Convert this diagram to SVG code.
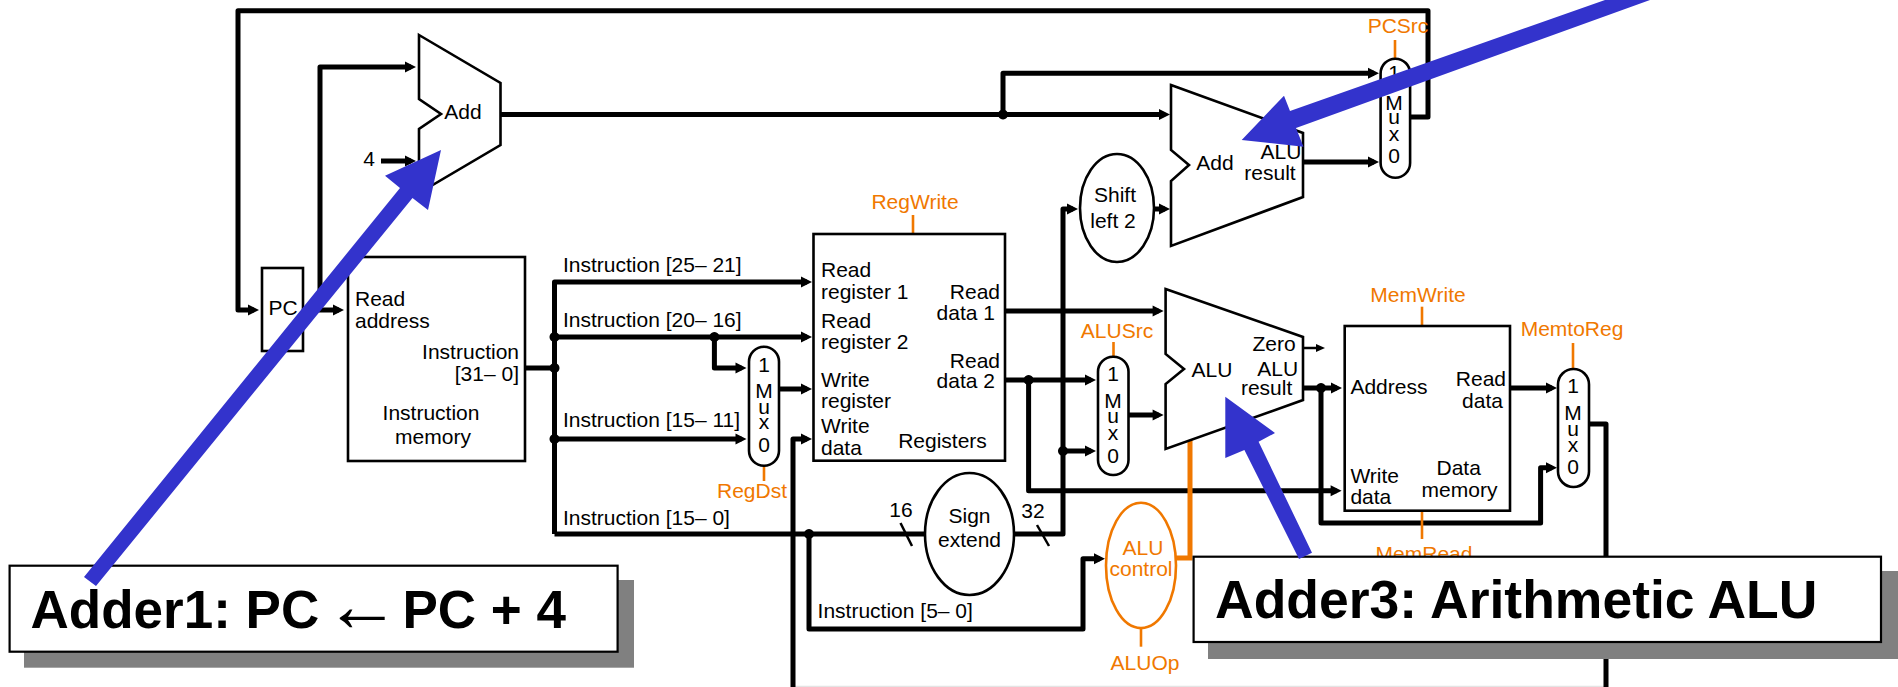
<svg xmlns="http://www.w3.org/2000/svg" width="1898" height="687" viewBox="0 0 1898 687">
<defs>
<marker id="ah" markerUnits="userSpaceOnUse" markerWidth="14" markerHeight="14" refX="7" refY="7" orient="auto"><path d="M1,1.5 L12,7 L1,12.5 Z" fill="#000"/></marker>
<marker id="ahs" markerUnits="userSpaceOnUse" markerWidth="12" markerHeight="12" refX="5" refY="6" orient="auto"><path d="M1,2 L10,6 L1,10 Z" fill="#000"/></marker>
</defs>
<style>
text{font-family:"Liberation Sans",Arial,sans-serif;font-size:21px;fill:#000}
.m{text-anchor:middle}.e{text-anchor:end}
.o{fill:#f07800}
.w{stroke:#000;stroke-width:5;fill:none;stroke-linejoin:round;stroke-linecap:butt}
.a{marker-end:url(#ah)}
.t{stroke:#000;stroke-width:2.5;fill:none}
.b{stroke:#000;stroke-width:2.6;fill:#fff;stroke-linejoin:miter}
.ol{stroke:#f07800;stroke-width:2.6;fill:none}
.d{fill:#000}
.blue{fill:#3333cc}
.big{font-size:53.5px;font-weight:bold}
.sh{fill:#808080}
.cb{fill:#fff;stroke:#000;stroke-width:2.2}
</style>
<rect width="1898" height="687" fill="#fff"/>
<g id="connectors">
<path class="w" d="M793,686.5H1606" style="stroke:#e4e4e4;stroke-width:1.5"/>
<path class="w" d="M1410,117H1428V10.7H238V310H254" marker-end="url(#ah)"/>
<path class="w a" d="M303,310H339"/>
<path class="w a" d="M320,310V67H411"/>
<path class="w a" d="M381,161H411"/>
<path class="w" d="M500.5,114.5H1003"/>
<path class="w a" d="M1003,114.5H1165"/>
<path class="w a" d="M1003,114.5V73.3H1374"/>
<path class="w a" d="M1303,162H1374"/>
<path class="w" d="M525,368H554.5"/>
<path class="w a" d="M554.5,534V282H807"/>
<path class="w a" d="M554.5,337H807"/>
<path class="w a" d="M714.4,337V368H741.5"/>
<path class="w a" d="M554.5,439H741.5"/>
<path class="w a" d="M779,389H807"/>
<path class="w" d="M554.5,534H926"/>
<path class="w a" d="M793,687V439H807"/>
<path class="w a" d="M809,534V629H1083V558.7H1100"/>
<path class="w a" d="M1005,311H1158.6"/>
<path class="w a" d="M1005,380H1091"/>
<path class="w a" d="M1028.6,380V490.7H1336.6"/>
<path class="w a" d="M1014,534H1063V209H1073"/>
<path class="w a" d="M1063,451H1091"/>
<path class="w a" d="M1128.5,415H1158.6"/>
<path class="w a" d="M1152,209H1165"/>
<path class="t" d="M1303,348H1320" marker-end="url(#ahs)"/>
<path class="w a" d="M1303,388H1337"/>
<path class="w a" d="M1321,388V523H1540.6V467.7H1552"/>
<path class="w a" d="M1510,388H1552"/>
<path class="w" d="M1588,424H1606V687"/>
<path class="t" d="M900.5,523L912,546"/>
<path class="t" d="M1037,525L1049,546"/>
<path class="d" d="M554.5,332a5,5 0 1,0 .01,0Z M554.5,363a5,5 0 1,0 .01,0Z M554.5,434a5,5 0 1,0 .01,0Z M714.4,332a5,5 0 1,0 .01,0Z M1003,109.5a5,5 0 1,0 .01,0Z M1028.6,375a5,5 0 1,0 .01,0Z M1063,446a5,5 0 1,0 .01,0Z M1321,383a5,5 0 1,0 .01,0Z M809,529a5,5 0 1,0 .01,0Z"/>
<path class="ol" d="M1395,40V58"/>
<path class="ol" d="M764,466V481"/>
<path class="ol" d="M913,215V234"/>
<path class="ol" d="M1113.5,342V356"/>
<path class="ol" d="M1422,306.7V326"/>
<path class="ol" d="M1422,511V539"/>
<path class="ol" d="M1573,343V369"/>
<path class="ol" d="M1141,628V646.7"/>
<path class="ol" d="M1190,440V558H1176" style="stroke-width:5"/>
</g>
<g id="pc"><rect class="b" x="262" y="268" width="41" height="83"/><text class="m" x="283" y="315">PC</text></g>
<g id="add1"><path class="b" d="M419,35L500.5,83V145L419,193V129L441,114L419,99Z"/><text class="m" x="463" y="119">Add</text><text class="m" x="369" y="166">4</text></g>
<g id="instruction-memory"><rect class="b" x="348" y="257" width="177" height="204"/>
<text x="355" y="306">Read</text><text x="355" y="328">address</text><text class="e" x="519" y="359">Instruction</text><text class="e" x="519" y="381">[31– 0]</text><text class="m" x="431" y="420">Instruction</text><text class="m" x="433" y="444">memory</text></g>
<g id="instruction-labels"><text x="563" y="272">Instruction [25– 21]</text><text x="563" y="327">Instruction [20– 16]</text><text x="563" y="427">Instruction [15– 11]</text><text x="563" y="525">Instruction [15– 0]</text><text x="817.6" y="618">Instruction [5– 0]</text><text class="m" x="901" y="517">16</text><text class="m" x="1033" y="518">32</text></g>
<g id="mux-regdst"><rect class="b" x="749" y="346.7" width="30" height="119" rx="15"/><text class="m" x="764" y="372">1</text><text class="m" x="764" y="398">M</text><text class="m" x="764" y="414">u</text><text class="m" x="764" y="429">x</text><text class="m" x="764" y="452">0</text><text class="m o" x="752" y="498">RegDst</text></g>
<g id="registers"><rect class="b" x="813.5" y="234" width="191.5" height="226.7"/><text class="m o" x="915" y="209">RegWrite</text>
<text x="821" y="277">Read</text><text x="821" y="299">register 1</text><text x="821" y="328">Read</text><text x="821" y="349">register 2</text><text x="821" y="387">Write</text><text x="821" y="408">register</text><text x="821" y="433">Write</text><text x="821" y="455">data</text><text class="m" x="942.5" y="448">Registers</text>
<text class="e" x="1000" y="299">Read</text><text class="e" x="995" y="320">data 1</text><text class="e" x="1000" y="368">Read</text><text class="e" x="995" y="388">data 2</text></g>
<g id="sign-extend"><ellipse class="b" cx="969.5" cy="534" rx="44.5" ry="61"/><text class="m" x="969.5" y="523">Sign</text><text class="m" x="969.5" y="547">extend</text></g>
<g id="shift-left"><ellipse class="b" cx="1117" cy="208" rx="37" ry="54"/><text class="m" x="1115" y="202">Shift</text><text class="m" x="1113" y="228">left 2</text></g>
<g id="add2"><path class="b" d="M1171,85L1303,133V197L1171,246V181L1189,165L1171,150Z"/><text class="m" x="1215" y="170">Add</text><text class="m" x="1281" y="159">ALU</text><text class="m" x="1270" y="180">result</text></g>
<g id="mux-pcsrc"><rect class="b" x="1380.6" y="58.7" width="29.5" height="119" rx="14.7"/><text class="m" x="1394" y="80">1</text><text class="m" x="1394" y="110">M</text><text class="m" x="1394" y="124">u</text><text class="m" x="1394" y="141">x</text><text class="m" x="1394" y="163">0</text><text class="m o" x="1398" y="33">PCSrc</text></g>
<g id="mux-alusrc"><rect class="b" x="1098" y="356.7" width="30.5" height="118.3" rx="15"/><text class="m" x="1113" y="381">1</text><text class="m" x="1113" y="407.7">M</text><text class="m" x="1113" y="423">u</text><text class="m" x="1113" y="440">x</text><text class="m" x="1113" y="462.7">0</text><text class="m o" x="1117" y="337.7">ALUSrc</text></g>
<g id="alu"><path class="b" d="M1165.6,289L1303,337V400L1165.6,449V384L1184,369L1165.6,354Z"/><text class="m" x="1212" y="376.7">ALU</text><text class="m" x="1274" y="350.7">Zero</text><text class="m" x="1277.7" y="375.7">ALU</text><text class="m" x="1266.6" y="395">result</text></g>
<g id="alu-control"><ellipse cx="1141" cy="565.4" rx="35" ry="62.7" fill="#fff" stroke="#f07800" stroke-width="2.6"/><text class="m o" x="1143" y="555">ALU</text><text class="m o" x="1141" y="576">control</text><text class="m o" x="1145" y="670">ALUOp</text></g>
<g id="data-memory"><rect class="b" x="1344.7" y="326" width="165.3" height="184.7"/><text class="m o" x="1418" y="301.7">MemWrite</text><text class="m o" x="1424" y="561">MemRead</text>
<text x="1350.4" y="394">Address</text><text class="e" x="1506" y="386">Read</text><text class="m" x="1482.5" y="407.7">data</text><text x="1350.4" y="482.7">Write</text><text x="1350.4" y="504">data</text><text class="m" x="1458.7" y="475">Data</text><text class="m" x="1459.5" y="497">memory</text></g>
<g id="mux-memtoreg"><rect class="b" x="1558" y="369" width="31" height="118" rx="15.5"/><text class="m" x="1573" y="393">1</text><text class="m" x="1573" y="420">M</text><text class="m" x="1573" y="435.7">u</text><text class="m" x="1573" y="452">x</text><text class="m" x="1573" y="474">0</text><text class="m o" x="1572" y="336">MemtoReg</text></g>
<g id="callout-adder1"><rect class="sh" x="24" y="580" width="610" height="87.7"/><rect class="cb" x="9.6" y="565.7" width="608" height="86"/><text class="big" x="30.6" y="628" style="font-size:53px">Adder1: PC <tspan x="324" y="631" font-weight="normal" style="font-size:76px">←</tspan><tspan x="402.5" y="628">PC + 4</tspan></text></g>
<g id="callout-adder3"><rect class="sh" x="1208" y="571" width="690" height="88"/><rect class="cb" x="1193.6" y="556.7" width="687.4" height="85.3"/><text class="big" x="1215" y="618">Adder3: Arithmetic ALU</text></g>
<g id="callout-arrows">
<polygon class="blue" points="441,150 385,175.7 400,188 84,577 96,586 412.5,198 428,210"/>
<polygon class="blue" points="1241.7,140 1303.5,146.7 1296,128 1650,0 1605,0 1290,111 1284,95.7"/>
<polygon class="blue" points="1225.3,396.7 1225.3,458 1244.4,450 1299,559 1312,552.7 1258.6,441.7 1275,433"/>
</g>
</svg>
